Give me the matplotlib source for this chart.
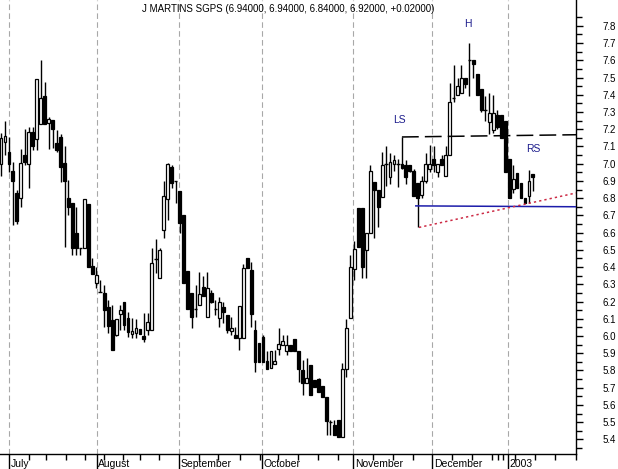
import matplotlib
matplotlib.use("Agg")
from matplotlib import pyplot as plt

plt.rcParams['font.family'] = ['Liberation Sans', 'DejaVu Sans']
plt.rcParams['font.size'] = 7

title = "J MARTINS SGPS (6.94000, 6.94000, 6.84000, 6.92000, +0.02000)"

# daily candles, late June 2002 to early January 2003
opens = [7.00, 7.125, 7.07, 6.96, 6.83, 6.80, 7.05, 7.00, 7.185, 7.145,
         7.23, 7.39, 7.235, 7.255, 7.12, 7.155, 7.005, 6.80, 6.77, 6.60,
         6.51, 6.51, 6.765, 6.405, 6.31, 6.255, 6.25, 6.17, 6.09, 6.005,
         6.13, 6.20, 6.105, 6.01, 6.02, 6.04, 6.00, 6.035, 6.035, 6.445,
         6.335, 6.615, 6.795, 6.98, 6.90, 6.84, 6.70, 6.38, 6.25, 6.155,
         6.18, 6.285, 6.11, 6.25, 6.155, 6.105, 6.17, 6.12, 6.03, 6.005,
         5.99, 5.99, 6.455, 6.385, 6.035, 5.96, 5.995, 5.855, 5.815, 5.84,
         5.925, 5.945, 5.915, 5.945, 5.985, 5.915, 5.80, 5.725, 5.83, 5.745,
         5.75, 5.71, 5.645, 5.50, 5.485, 5.51, 5.415, 5.81, 6.105, 6.39,
         6.745, 6.745, 6.50, 6.60, 6.895, 6.85, 6.805, 7.00, 6.925, 7.00,
         7.00, 7.00, 6.995, 6.995, 6.96, 6.89, 6.82, 6.90, 6.97, 7.03,
         6.95, 7.03, 6.93, 7.05, 7.38, 7.40, 7.41, 7.50, 7.60, 7.60,
         7.52, 7.435, 7.31, 7.24, 7.195, 7.28, 7.28, 7.25, 7.03, 6.855,
         6.945, 6.89, 6.80, 6.81, 6.94]
highs = [7.18, 7.25, 7.155, 7.01, 6.85, 7.085, 7.20, 7.21, 7.21, 7.49,
         7.60, 7.475, 7.27, 7.255, 7.195, 7.17, 7.10, 6.905, 6.77, 6.75,
         6.51, 6.795, 6.765, 6.45, 6.40, 6.325, 6.295, 6.21, 6.18, 6.10,
         6.18, 6.20, 6.14, 6.105, 6.10, 6.04, 6.135, 6.135, 6.51, 6.56,
         6.51, 6.90, 7.005, 6.995, 6.90, 6.84, 6.70, 6.38, 6.25, 6.295,
         6.37, 6.35, 6.37, 6.265, 6.21, 6.225, 6.20, 6.12, 6.11, 6.05,
         6.175, 6.42, 6.455, 6.43, 6.095, 5.96, 6.005, 5.91, 5.91, 5.92,
         6.045, 6.005, 6.005, 5.945, 5.985, 5.915, 5.86, 5.87, 5.83, 5.745,
         5.755, 5.71, 5.645, 5.51, 5.51, 5.51, 5.845, 6.10, 6.47, 6.55,
         6.745, 6.745, 6.60, 6.99, 6.895, 6.85, 7.07, 7.10, 7.06, 7.05,
         7.03, 7.155, 7.02, 6.995, 6.97, 6.89, 6.93, 7.06, 7.11, 7.10,
         7.00, 7.05, 7.10, 7.47, 7.575, 7.50, 7.57, 7.50, 7.70, 7.60,
         7.52, 7.435, 7.39, 7.41, 7.40, 7.31, 7.28, 7.25, 7.03, 6.99,
         6.945, 6.89, 6.80, 6.965, 6.94]
lows = [6.93, 7.05, 6.95, 6.645, 6.65, 6.75, 6.99, 6.86, 7.08, 7.08,
        7.23, 7.23, 7.085, 7.09, 7.07, 6.895, 6.515, 6.70, 6.47, 6.47,
        6.47, 6.51, 6.40, 6.36, 6.28, 6.255, 6.05, 6.02, 5.92, 6.00,
        6.035, 6.035, 5.995, 5.99, 5.99, 6.01, 5.965, 6.005, 6.035, 6.365,
        6.335, 6.57, 6.675, 6.86, 6.77, 6.60, 6.31, 6.155, 6.045, 6.11,
        6.18, 6.23, 6.11, 6.19, 6.12, 6.05, 6.075, 6.015, 6.005, 5.99,
        5.92, 5.99, 6.395, 6.05, 5.79, 5.85, 5.85, 5.81, 5.815, 5.84,
        5.89, 5.945, 5.89, 5.915, 5.915, 5.73, 5.66, 5.725, 5.655, 5.705,
        5.675, 5.645, 5.425, 5.425, 5.425, 5.415, 5.415, 5.76, 6.105, 6.325,
        6.515, 6.335, 6.335, 6.60, 6.57, 6.63, 6.805, 6.87, 6.88, 6.96,
        6.865, 6.97, 6.88, 6.95, 6.81, 6.63, 6.80, 6.89, 6.95, 6.95,
        6.92, 6.99, 6.93, 7.05, 7.36, 7.40, 7.41, 7.44, 7.39, 7.50,
        7.40, 7.30, 7.25, 7.17, 7.18, 7.20, 7.15, 6.95, 6.80, 6.83,
        6.86, 6.80, 6.77, 6.77, 6.84]
closes = [7.15, 7.16, 7.00, 6.90, 6.67, 7.005, 7.01, 7.185, 7.10, 7.49,
          7.38, 7.23, 7.26, 7.20, 7.08, 6.98, 6.90, 6.75, 6.51, 6.51,
          6.51, 6.795, 6.40, 6.36, 6.355, 6.255, 6.15, 6.06, 5.92, 6.10,
          6.15, 6.065, 6.025, 6.03, 6.045, 6.01, 5.98, 6.08, 6.425, 6.445,
          6.50, 6.81, 7.00, 6.89, 6.90, 6.655, 6.31, 6.155, 6.11, 6.155,
          6.245, 6.23, 6.28, 6.20, 6.155, 6.20, 6.14, 6.035, 6.045, 5.99,
          6.175, 6.395, 6.395, 6.13, 5.85, 5.85, 5.85, 5.81, 5.91, 5.855,
          5.955, 5.97, 5.95, 5.915, 5.915, 5.81, 5.725, 5.755, 5.655, 5.705,
          5.675, 5.645, 5.505, 5.50, 5.425, 5.415, 5.81, 6.045, 6.40, 6.505,
          6.515, 6.40, 6.60, 6.955, 6.85, 6.75, 6.99, 7.00, 7.01, 7.02,
          7.00, 6.975, 6.92, 6.96, 6.81, 6.80, 6.90, 7.00, 7.00, 6.99,
          7.00, 6.99, 7.05, 7.36, 7.38, 7.45, 7.50, 7.46, 7.60, 7.58,
          7.40, 7.31, 7.31, 7.295, 7.295, 7.215, 7.15, 6.95, 6.80, 6.91,
          6.86, 6.80, 6.77, 6.90, 6.92]

# month separators (trading-day index) and weekly ticks
month_pos = [2.1, 24.1, 44.9, 65.8, 88.7, 108.6, 127.6]
month_names = ["July", "August", "September", "October", "November", "December", "2003"]
week_pos = [7.1, 11.3, 16.3, 21.1, 26.0, 30.8, 35.0, 39.9, 49.9, 54.7, 60.2,
            65.2, 69.8, 74.8, 79.8, 84.9, 93.7, 98.7, 103.8, 113.6, 118.6,
            123.7, 125.2, 126.4, 129.5, 134.5, 139.5, 144.8]

# pattern annotations
shoulder_x = [101, 144.85]
shoulder_y = [7.155, 7.168]
support_x = [104.5, 144.85]
support_y = [6.755, 6.75]
trend_x = [105.3, 144.85]
trend_y = [6.63, 6.83]
labels = [("H", 117.5, 7.81), ("LS", 100.3, 7.254), ("RS", 134.0, 7.086)]

fig = plt.figure(figsize=(6.18, 4.69), dpi=100)
ax = fig.add_axes([0, 15 / 469, 576 / 618, 454 / 469])

for m in month_pos:
    ax.axvline(m, color='#a8a8a8', lw=0.8, ls=(0, (5, 3)), zorder=0)

bw = 0.72
for i in range(len(opens)):
    o, h, l, c = opens[i], highs[i], lows[i], closes[i]
    ax.vlines(i, l, h, color='black', lw=1, zorder=2)
    if abs(c - o) < 0.004:
        ax.hlines(c, i - bw / 2 - 0.1, i + bw / 2 + 0.1, color='black', lw=1, zorder=3)
    else:
        fc = 'white' if c > o else 'black'
        ax.bar(i, abs(c - o), bottom=min(o, c), width=bw, color=fc,
               edgecolor='black', linewidth=0.9, zorder=3)

ax.plot(shoulder_x, shoulder_y, color='black', lw=1.1, ls=(0, (11, 4)), zorder=4)
ax.plot(support_x, support_y, color='#1c1caa', lw=1.1, zorder=4)
ax.plot(trend_x, trend_y, color='#cc2a44', lw=1.1, ls=(0, (1.5, 2)), zorder=4)
for t, x, y in labels:
    ax.text(x, y, t, color='#1c1c8c', ha='center', va='center', fontsize=7.5)

ax.text(0.5, 1 - 9.5 / 454, title, transform=ax.transAxes, ha='center', va='center')

ax.set_xlim(-0.25, 144.85)
ax.set_ylim(5.315, 7.95)

for s in ['left', 'top']:
    ax.spines[s].set_visible(False)
for s in ['right', 'bottom']:
    ax.spines[s].set_linewidth(1)

ax.yaxis.tick_right()
yt = [round(5.4 + 0.1 * k, 1) for k in range(25)]
ax.set_yticks(yt)
ax.set_yticklabels(["%.1f" % v for v in yt])
ax.set_yticks([round(5.35 + 0.1 * k, 2) for k in range(26)], minor=True)
ax.tick_params(axis='y', which='major', length=5, width=1, pad=14, direction='out')
ax.tick_params(axis='y', which='minor', length=4, width=1, direction='out')

ax.set_xticks(month_pos)
ax.set_xticklabels([])
ax.set_xticks(week_pos, minor=True)
ax.tick_params(axis='x', which='major', length=11, width=1, direction='out')
ax.tick_params(axis='x', which='minor', length=4.5, width=1, direction='out')
for m, name in zip(month_pos, month_names):
    ax.text(m + 0.4, -0.011, name, transform=ax.get_xaxis_transform(),
            ha='left', va='top', fontsize=7.5)

fig.savefig("out.png", dpi=100)
